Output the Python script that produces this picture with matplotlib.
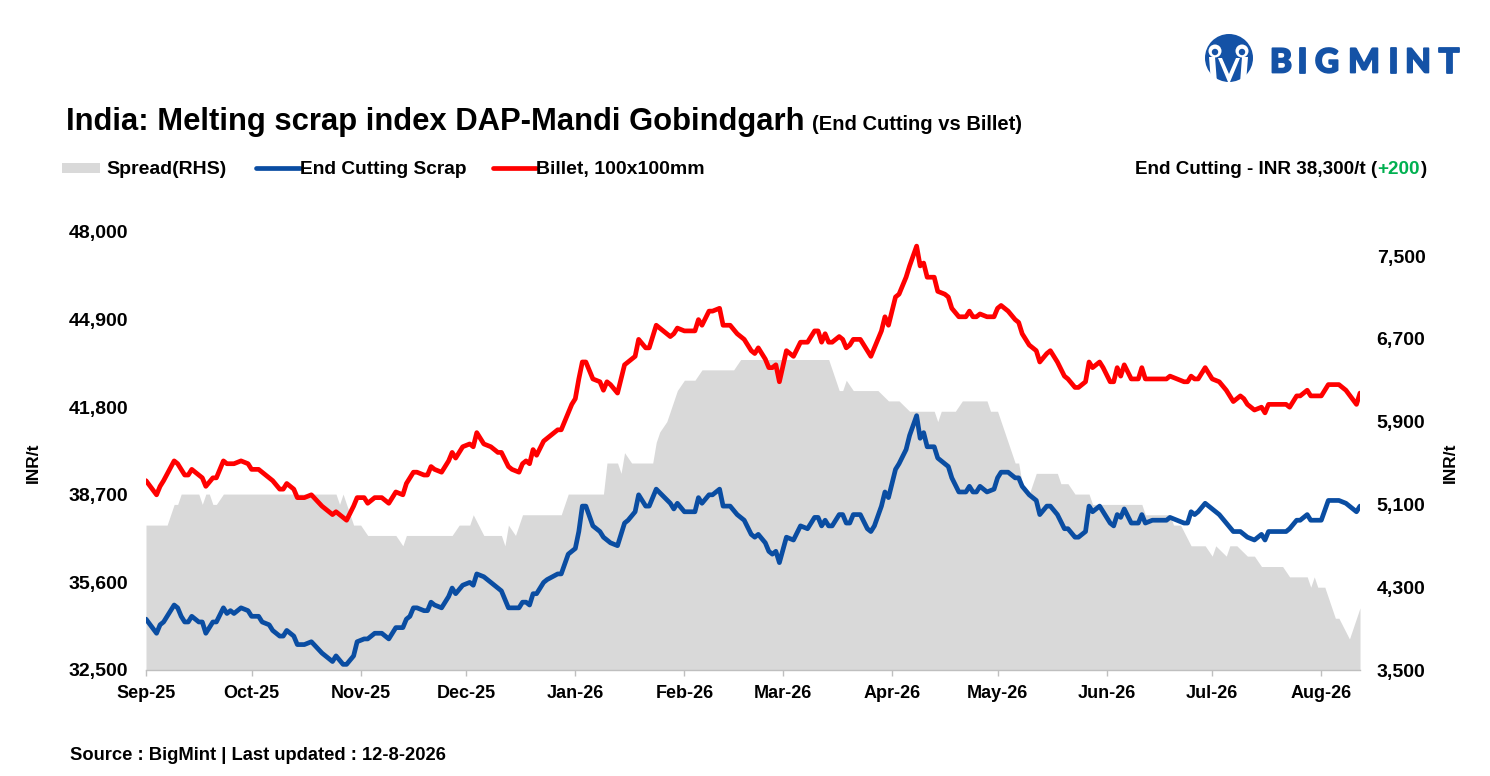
import pandas as pd
import matplotlib
matplotlib.use("Agg")
import matplotlib.pyplot as plt
import matplotlib.patheffects as pe
from matplotlib.patches import Circle, Rectangle, Polygon
from matplotlib.lines import Line2D

plt.rcParams['font.family'] = ['Liberation Sans', 'DejaVu Sans']
plt.rcParams['font.weight'] = 'bold'

START = pd.Timestamp("2025-09-01")

# days since 1 Sep 2025, prices in INR/t
line_day = [0, 3, 4, 5, 8, 9, 10, 11, 12, 13, 15, 16, 17, 19, 20, 22, 23, 24, 25, 27,
            29, 30, 32, 33, 35, 36, 38, 39, 40, 42, 43, 45, 47, 50, 53, 54, 56, 57, 59, 60,
            62, 63, 65, 67, 69, 70, 71, 73, 74, 75, 76, 77, 79, 80, 81, 82, 84, 86, 87, 88,
            90, 92, 93, 94, 96, 98, 100, 101, 103, 104, 106, 107, 108, 109, 110, 111, 113, 114, 117, 118,
            120, 121, 122, 123, 124, 125, 127, 129, 130, 131, 132, 134, 136, 137, 139, 140, 142, 143, 145, 149,
            150, 151, 153, 156, 157, 158, 160, 161, 163, 164, 166, 168, 170, 172, 173, 174, 176, 177, 178, 179,
            180, 182, 184, 186, 188, 190, 191, 192, 193, 194, 195, 197, 198, 199, 200, 201, 203, 205, 206, 207,
            209, 210, 211, 213, 214, 216, 217, 219, 220, 221, 222, 223, 224, 225, 227, 228, 229, 231, 233, 234,
            235, 236, 237, 239, 241, 242, 243, 245, 247, 248, 249, 251, 253, 254, 256, 257, 259, 261, 262, 264,
            265, 267, 268, 269, 271, 272, 274, 275, 276, 277, 278, 280, 282, 283, 284, 286, 290, 291, 293, 295,
            296, 297, 298, 299, 301, 303, 305, 307, 309, 311, 312, 313, 315, 317, 318, 319, 324, 325, 327, 328,
            330, 331, 334, 336, 339, 341, 344, 345]

billet = [39200, 38700, 39000, 39200, 39900, 39800, 39600, 39400, 39400, 39600, 39400, 39300, 39000, 39300, 39300, 39900, 39800, 39800, 39800, 39900,
          39800, 39600, 39600, 39500, 39300, 39200, 38900, 38900, 39100, 38900, 38600, 38600, 38700, 38300, 38000, 38100, 37900, 37800, 38300, 38600,
          38600, 38400, 38600, 38600, 38400, 38600, 38800, 38700, 39100, 39300, 39500, 39500, 39400, 39400, 39700, 39600, 39500, 39900, 40200, 40000,
          40400, 40500, 40400, 40900, 40500, 40400, 40200, 40200, 39700, 39600, 39500, 39800, 39900, 39800, 40300, 40100, 40600, 40700, 41000, 41000,
          41600, 41900, 42100, 42800, 43400, 43400, 42800, 42700, 42400, 42700, 42600, 42300, 43300, 43400, 43600, 44200, 43900, 43900, 44700, 44300,
          44400, 44600, 44500, 44500, 44900, 44700, 45200, 45200, 45300, 44700, 44700, 44400, 44200, 43800, 43700, 43900, 43500, 43200, 43200, 43300,
          42700, 43800, 43600, 44100, 44100, 44500, 44500, 44100, 44400, 44100, 44100, 44300, 44200, 43900, 44000, 44200, 44200, 43800, 43600, 43900,
          44500, 45000, 44700, 45700, 45800, 46400, 46800, 47500, 46800, 46900, 46400, 46400, 46400, 45900, 45800, 45700, 45300, 45000, 45000, 45200,
          45000, 45000, 45100, 45000, 45000, 45300, 45400, 45200, 44900, 44800, 44400, 44000, 43800, 43400, 43700, 43800, 43400, 42900, 42800, 42500,
          42500, 42700, 43400, 43200, 43400, 43200, 42700, 42700, 43200, 42900, 43300, 42800, 42800, 43200, 42800, 42800, 42800, 42900, 42800, 42700,
          42700, 42900, 42800, 42800, 43200, 42800, 42700, 42400, 42000, 42200, 42100, 41900, 41700, 41800, 41600, 41900, 41900, 41800, 42200, 42200,
          42400, 42200, 42200, 42600, 42600, 42400, 41900, 42300]

scrap = [34300, 33800, 34100, 34200, 34800, 34700, 34400, 34200, 34200, 34400, 34200, 34200, 33800, 34200, 34200, 34700, 34500, 34600, 34500, 34700,
         34600, 34400, 34400, 34200, 34100, 33900, 33700, 33700, 33900, 33700, 33400, 33400, 33500, 33100, 32800, 33000, 32700, 32700, 33000, 33500,
         33600, 33600, 33800, 33800, 33600, 33800, 34000, 34000, 34300, 34400, 34700, 34700, 34600, 34600, 34900, 34800, 34700, 35100, 35400, 35200,
         35500, 35600, 35500, 35900, 35800, 35600, 35400, 35300, 34700, 34700, 34700, 34900, 34900, 34800, 35200, 35200, 35600, 35700, 35900, 35900,
         36600, 36700, 36800, 37400, 38300, 38300, 37600, 37400, 37200, 37100, 37000, 36900, 37700, 37800, 38100, 38700, 38300, 38300, 38900, 38400,
         38200, 38400, 38100, 38100, 38600, 38400, 38700, 38700, 38900, 38300, 38300, 38000, 37800, 37300, 37200, 37300, 37000, 36700, 36600, 36700,
         36300, 37200, 37100, 37600, 37500, 37900, 37900, 37600, 37800, 37600, 37600, 38000, 38000, 37700, 37700, 38000, 38000, 37500, 37400, 37600,
         38300, 38800, 38600, 39600, 39800, 40300, 40800, 41500, 40700, 40900, 40400, 40400, 40400, 40000, 39800, 39700, 39300, 38800, 38800, 39000,
         38800, 38800, 39000, 38800, 38900, 39300, 39500, 39500, 39300, 39300, 39000, 38700, 38500, 38000, 38300, 38300, 38000, 37500, 37500, 37200,
         37200, 37400, 38300, 38100, 38300, 38100, 37700, 37600, 38000, 37900, 38200, 37700, 37700, 38000, 37700, 37800, 37800, 37900, 37800, 37700,
         37700, 38100, 38000, 38100, 38400, 38200, 38000, 37700, 37400, 37400, 37300, 37200, 37100, 37300, 37100, 37400, 37400, 37500, 37800, 37800,
         38000, 37800, 37800, 38500, 38500, 38400, 38100, 38300]

spread_day = [0, 1, 6, 8, 9, 10, 15, 16, 17, 18, 19, 20, 22, 54, 55, 56, 58, 59, 61, 63,
              71, 73, 74, 87, 89, 92, 93, 96, 101, 102, 103, 105, 107, 118, 120, 130, 131, 134, 135, 136,
              138, 144, 145, 146, 148, 150, 151, 153, 156, 158, 167, 169, 194, 197, 198, 199, 201, 208, 211, 214,
              217, 224, 225, 226, 230, 232, 239, 240, 242, 245, 247, 248, 249, 251, 253, 259, 260, 262, 264, 268,
              269, 283, 284, 291, 292, 294, 297, 301, 303, 304, 307, 308, 310, 313, 315, 317, 323, 325, 330, 331,
              332, 333, 335, 338, 339, 342, 343, 344, 345]

spread = [4900, 4900, 4900, 5100, 5100, 5200, 5200, 5100, 5200, 5200, 5100, 5100, 5200, 5200, 5100, 5200, 5000, 4900, 4900, 4800,
          4800, 4700, 4800, 4800, 4900, 4900, 5000, 4800, 4800, 4700, 4900, 4800, 5000, 5000, 5200, 5200, 5500, 5500, 5400, 5600,
          5500, 5500, 5700, 5800, 5900, 6100, 6200, 6300, 6300, 6400, 6400, 6500, 6500, 6200, 6200, 6300, 6200, 6200, 6100, 6100,
          6000, 6000, 5900, 6000, 6000, 6100, 6100, 6000, 6000, 5700, 5500, 5500, 5300, 5200, 5400, 5400, 5300, 5300, 5200, 5200,
          5100, 5100, 5000, 5000, 4900, 4900, 4700, 4700, 4600, 4700, 4600, 4700, 4700, 4600, 4600, 4500, 4500, 4400, 4400, 4300,
          4400, 4300, 4300, 4000, 4000, 3800, 3900, 4000, 4100]

left_ticks = [32500, 35600, 38700, 41800, 44900, 48000]
right_ticks = [3500, 4300, 5100, 5900, 6700, 7500]

BLUE = "#0A4DA2"
RED = "#FF0000"
GREY = "#D9D9D9"
LOGO = "#1452A6"

dates = START + pd.to_timedelta(line_day, unit="D")
sdates = START + pd.to_timedelta(spread_day, unit="D")
months = pd.date_range("2025-09-01", "2026-08-01", freq="MS")

W, H = 1490, 776
fig = plt.figure(figsize=(W / 100, H / 100), dpi=100)

ax = fig.add_axes([146 / W, 106 / H, 1214 / W, 438 / H])
ax2 = ax.twinx()

# spread sits behind the two price lines
ax2.fill_between(sdates, 3500, spread, color=GREY, lw=0)
ax2.set_ylim(3500, 7732)
ax2.set_yticks(right_ticks)
ax2.set_yticklabels([f"{v:,}" for v in right_ticks])
ax2.tick_params(axis="y", length=0, pad=12, labelsize=14)

ax.set_zorder(ax2.get_zorder() + 1)
ax.patch.set_visible(False)
ax.plot(dates, scrap, color=BLUE, lw=3.4, solid_joinstyle="round", solid_capstyle="round")
ax.plot(dates, billet, color=RED, lw=3.4, solid_joinstyle="round", solid_capstyle="round")
ax.set_ylim(32500, 48000)
ax.set_xlim(START, START + pd.Timedelta(days=345))
ax.set_yticks(left_ticks)
ax.set_yticklabels([f"{v:,}" for v in left_ticks])
ax.tick_params(axis="y", length=0, pad=13, labelsize=14)
ax.set_xticks(months)
ax.set_xticklabels([m.strftime("%b-%y") for m in months])
ax.tick_params(axis="x", length=4, width=1, color="#BFBFBF", pad=7, labelsize=13)

for a in (ax, ax2):
    for s in a.spines.values():
        s.set_visible(False)
ax.spines["bottom"].set_visible(True)
ax.spines["bottom"].set_color("#BFBFBF")
ax.spines["bottom"].set_linewidth(1)

# overlay in pixel coordinates for title, legend, notes and logo
ov = fig.add_axes([0, 0, 1, 1])
ov.set_xlim(0, W)
ov.set_ylim(H, 0)
ov.axis("off")
ov.patch.set_alpha(0)

fig.canvas.draw()
rend = fig.canvas.get_renderer()

title = ov.text(66, 130, "India: Melting scrap index DAP-Mandi Gobindgarh",
                fontsize=22.3, va="baseline", ha="left")
tw = title.get_window_extent(rend).width
ov.text(66 + tw + 7, 130, "(End Cutting vs Billet)", fontsize=14.5, va="baseline", ha="left")

# legend
ly = 168
base = 174
ov.add_patch(Rectangle((62, ly - 5), 38, 10, color=GREY, lw=0))
ov.text(106, base, "Spread(RHS)", fontsize=14, va="baseline", ha="left")
ov.add_line(Line2D([256, 300], [ly, ly], color=BLUE, lw=3.4, solid_capstyle="round"))
ov.text(300, base, "End Cutting Scrap", fontsize=13.8, va="baseline", ha="left")
ov.add_line(Line2D([493, 536], [ly, ly], color=RED, lw=3.4, solid_capstyle="round"))
ov.text(536, base, "Billet, 100x100mm", fontsize=14, va="baseline", ha="left")

# latest value note, built right to left
change = scrap[-1] - scrap[-2]
parts = [(f"End Cutting - INR {scrap[-1]:,}/t (", "black"), (f"{change:+,}", "#00B050"), (")", "black")]
xr = 1426
for txt, col in reversed(parts):
    t = ov.text(xr, base, txt, fontsize=13.6, va="baseline", ha="right", color=col)
    xr -= t.get_window_extent(rend).width

ov.text(33, 463, "INR/t", fontsize=12.5, rotation=90, va="center", ha="center")
ov.text(1450, 463, "INR/t", fontsize=12.5, rotation=90, va="center", ha="center")
ov.text(70, 755, "Source : BigMint | Last updated : 12-8-2026", fontsize=13.2, va="center", ha="left")

# logo
cx, cy = 1229, 58
ov.add_patch(Circle((cx, cy), 24, color=LOGO, lw=0))
for hx in (cx - 14, cx + 13):
    ov.add_patch(Circle((hx, cy - 7), 6.5, color="white", lw=0))
    ov.add_patch(Circle((hx, cy - 6), 3.2, color=LOGO, lw=0))
ov.add_patch(Polygon([(cx - 20, cy - 1), (cx - 14, cy - 1), (cx - 12, cy + 25), (cx - 18, cy + 25)], color="white", lw=0))
ov.add_patch(Polygon([(cx + 19, cy - 1), (cx + 13, cy - 1), (cx + 11, cy + 25), (cx + 17, cy + 25)], color="white", lw=0))
ov.add_patch(Polygon([(cx - 11, cy), (cx - 7, cy), (cx, cy + 16), (cx + 7, cy), (cx + 11, cy), (cx + 1, cy + 24), (cx - 1, cy + 24)], color="white", lw=0))
for ch, lx in zip("BIGMINT", [1281, 1302, 1327, 1364, 1393, 1418, 1449]):
    ov.text(lx, 63, ch, fontsize=24, color=LOGO, ha="center", va="center",
            family=["Lato", "DejaVu Sans"], weight="black",
            path_effects=[pe.withStroke(linewidth=1.3, foreground=LOGO)])

fig.savefig("out.png", dpi=100)
